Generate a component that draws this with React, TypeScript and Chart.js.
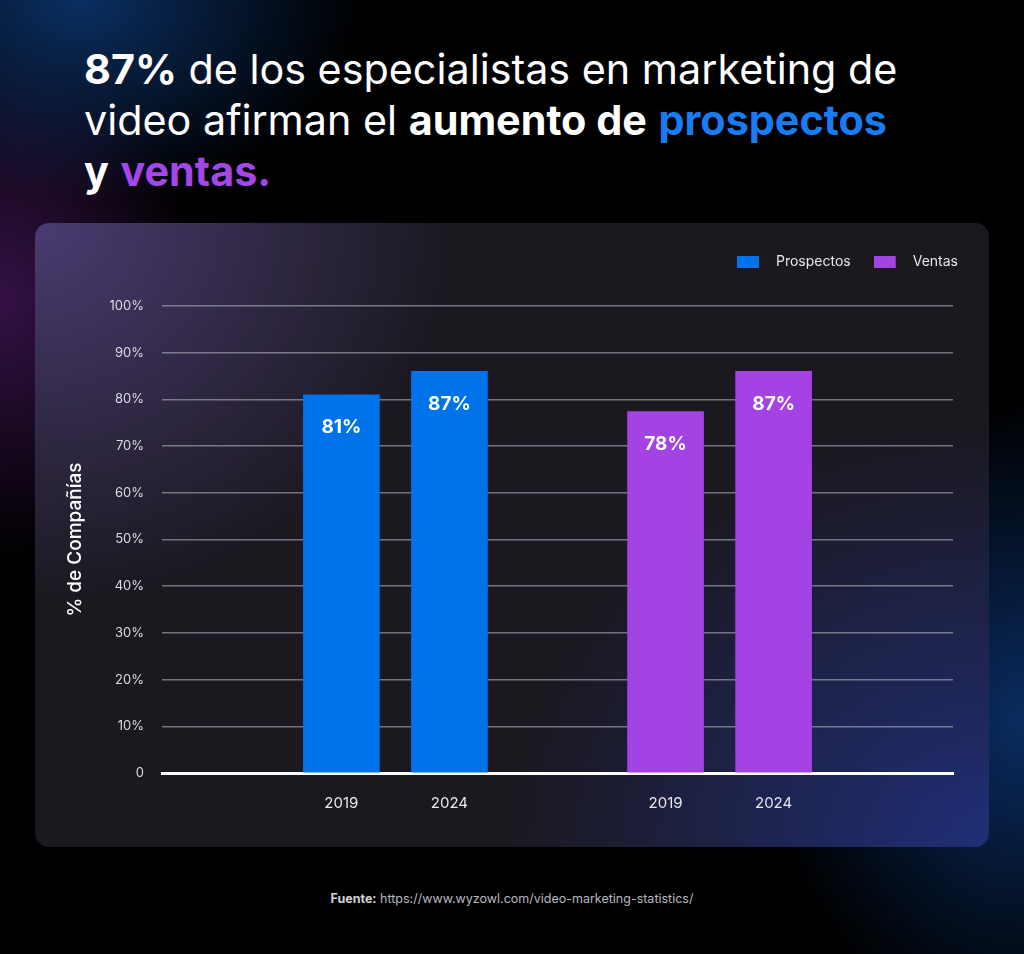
import React, { useEffect, useRef } from "react";
import { Chart, registerables } from "chart.js";

Chart.register(...registerables);

// ---- data ----
const seriesNames = ["Prospectos", "Ventas"];
const yearLabels = ["2019", "2024", "2019", "2024"];
const xPositions = [1, 2, 4, 5];
const prospectosValues = [81, 86];
const ventasValues = [77.4, 86];
const prospectosLabels = ["81%", "87%"];
const ventasLabels = ["78%", "87%"];
const yTicks = [0, 10, 20, 30, 40, 50, 60, 70, 80, 90, 100];

const BLUE = "#0073ea";
const PURPLE = "#a443e4";
const FONT = "Inter, 'Noto Sans', sans-serif";

function makeSwatch(color: string) {
  const c = document.createElement("canvas");
  c.width = 32;
  c.height = 12;
  const g = c.getContext("2d")!;
  g.fillStyle = color;
  g.fillRect(0, 0, 22, 12);
  return c;
}

const barLabelPlugin = {
  id: "barLabels",
  afterDatasetsDraw(chart: any) {
    const ctx = chart.ctx;
    ctx.save();
    ctx.fillStyle = "#ffffff";
    ctx.font = `700 19px ${FONT}`;
    ctx.textAlign = "center";
    ctx.textBaseline = "middle";
    chart.data.datasets.forEach((ds: any, di: number) => {
      const meta = chart.getDatasetMeta(di);
      meta.data.forEach((bar: any, i: number) => {
        ctx.fillText(ds.valueLabels[i], bar.x, bar.y + 33);
      });
    });
    ctx.restore();
  },
};

const legendTweak = {
  id: "legendTweak",
  afterInit(chart: any) {
    const lg = chart.legend;
    if (!lg) return;
    const fit = lg.fit.bind(lg);
    lg.fit = function () {
      fit();
      lg.height = 74;
    };
  },
  afterLayout(chart: any) {
    const lg = chart.legend;
    if (!lg) return;
    lg.left += 28;
    lg.right += 28;
  },
};

function BarChart() {
  const ref = useRef<HTMLCanvasElement | null>(null);
  useEffect(() => {
    if (!ref.current) return;
    const chart = new Chart(ref.current, {
      type: "bar",
      data: {
        datasets: [
          {
            label: seriesNames[0],
            data: prospectosValues.map((v, i) => ({ x: xPositions[i], y: v })),
            backgroundColor: BLUE,
            valueLabels: prospectosLabels,
          } as any,
          {
            label: seriesNames[1],
            data: ventasValues.map((v, i) => ({ x: xPositions[i + 2], y: v })),
            backgroundColor: PURPLE,
            valueLabels: ventasLabels,
          } as any,
        ],
      },
      options: {
        responsive: false,
        animation: false,
        layout: { padding: { left: 27, right: 36, top: 9, bottom: 0 } },
        datasets: { bar: { grouped: false, barThickness: 76, borderWidth: 0 } },
        plugins: {
          tooltip: { enabled: false },
          legend: {
            position: "top",
            align: "end",
            labels: {
              usePointStyle: true,
              pointStyleWidth: 32,
              boxHeight: 12,
              padding: 23,
              color: "#e6e6ec",
              font: { family: FONT, size: 14 },
              generateLabels: (c: any) =>
                c.data.datasets.map((ds: any, i: number) => ({
                  text: ds.label,
                  pointStyle: makeSwatch(ds.backgroundColor),
                  fillStyle: ds.backgroundColor,
                  strokeStyle: "transparent",
                  lineWidth: 0,
                  hidden: false,
                  datasetIndex: i,
                  fontColor: "#e6e6ec",
                })),
            },
          },
        },
        scales: {
          x: {
            type: "linear",
            offset: false,
            min: -0.66,
            max: 6.66,
            grid: { display: false, drawTicks: false, offset: false },
            border: { display: true, color: "#ffffff", width: 3 },
            afterBuildTicks: (scale: any) => {
              scale.ticks = xPositions.map((v) => ({ value: v }));
            },
            afterFit: (scale: any) => {
              scale.height = 74;
            },
            ticks: {
              padding: 21,
              color: "#e8e8ee",
              font: { family: FONT, size: 15 },
              autoSkip: false,
              maxRotation: 0,
              callback: (v: any) => {
                const idx = xPositions.indexOf(Number(v));
                return idx >= 0 ? yearLabels[idx] : "";
              },
            },
          },
          y: {
            min: 0,
            max: 100,
            grid: {
              color: "rgba(190,190,200,0.55)",
              lineWidth: 1.5,
              drawTicks: false,
            },
            border: { display: false },
            afterBuildTicks: (scale: any) => {
              scale.ticks = yTicks.map((v) => ({ value: v }));
            },
            afterFit: (scale: any) => {
              scale.width = 100;
            },
            ticks: {
              padding: 18,
              color: "#dcdce4",
              font: { family: FONT, size: 13 },
              callback: (v: any) => (Number(v) === 0 ? "0" : `${v}%`),
            },
            title: {
              display: true,
              text: "% de Compañías",
              color: "#ffffff",
              font: { family: FONT, size: 19, weight: "500" },
              padding: { top: 2, bottom: 0 },
            },
          },
        },
      } as any,
      plugins: [barLabelPlugin, legendTweak],
    });
    return () => chart.destroy();
  }, []);
  return <canvas ref={ref} width={954} height={624} style={{ display: "block" }} />;
}

export default function App() {
  return (
    <div
      style={{
        position: "absolute",
        left: 0,
        top: 0,
        width: 1024,
        height: 954,
        overflow: "hidden",
        fontFamily: FONT,
        background:
          "radial-gradient(ellipse 280px 200px at 80px 0px, rgba(12,55,115,0.85), rgba(0,0,0,0) 100%)," +
          "radial-gradient(ellipse 200px 260px at 0px 300px, rgba(75,25,100,0.7), rgba(0,0,0,0) 100%)," +
          "radial-gradient(ellipse 260px 320px at 1024px 720px, rgba(12,55,120,0.8), rgba(0,0,0,0) 100%)," +
          "#000",
      }}
    >
      <div
        style={{
          position: "absolute",
          left: 84,
          top: 44,
          width: 930,
          color: "#ffffff",
          fontSize: 41.3,
          lineHeight: "51px",
          fontWeight: 400,
          whiteSpace: "nowrap",
        }}
      >
        <div>
          <b style={{ fontWeight: 700 }}>87%</b> de los especialistas en marketing de
        </div>
        <div>
          video afirman el <b style={{ fontWeight: 700 }}>aumento de</b>{" "}
          <b style={{ fontWeight: 700, color: "#1a7cf2" }}>prospectos</b>
        </div>
        <div>
          <b style={{ fontWeight: 700 }}>y</b>{" "}
          <b style={{ fontWeight: 700, color: "#a447e8" }}>ventas.</b>
        </div>
      </div>

      <div
        style={{
          position: "absolute",
          left: 35,
          top: 223,
          width: 954,
          height: 624,
          borderRadius: 14,
          overflow: "hidden",
          background:
            "radial-gradient(ellipse 420px 380px at 0px 0px, rgba(78,64,122,0.9), rgba(0,0,0,0) 100%)," +
            "radial-gradient(ellipse 480px 420px at 954px 624px, rgba(32,48,125,0.95), rgba(0,0,0,0) 100%)," +
            "#1b1820",
        }}
      >
        <BarChart />
      </div>

      <div
        style={{
          position: "absolute",
          left: 0,
          width: 1024,
          top: 891,
          textAlign: "center",
          fontSize: 12.5,
          color: "#b8b8c0",
        }}
      >
        <b style={{ color: "#d0d0d6" }}>Fuente:</b> https://www.wyzowl.com/video-marketing-statistics/
      </div>
    </div>
  );
}
